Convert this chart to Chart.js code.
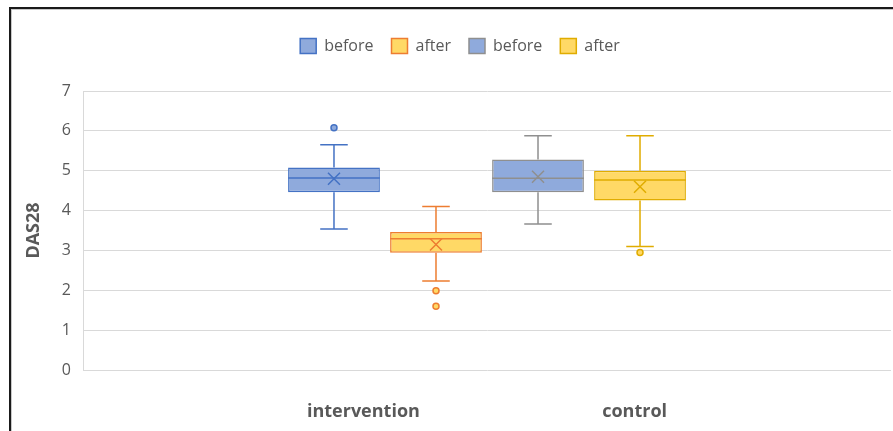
<!DOCTYPE html>
<html>
<head>
<meta charset="utf-8">
<script src="https://cdn.jsdelivr.net/npm/chart.js@4.4.1/dist/chart.umd.min.js"></script>
<style>
  html, body { margin: 0; padding: 0; background: #fff; }
  #frame {
    position: absolute; left: 9px; top: 7px;
    width: 882px; height: 422px;
    border-top: 2px solid #1a1a1a;
    border-left: 2px solid #1a1a1a;
    box-shadow: inset 1px 1px 0 #c8c8c8;
  }
  #chart { display: block; }
</style>
</head>
<body>
<div id="frame"><canvas id="chart" width="882" height="422"></canvas></div>
<script>
// box plot: DAS28 before / after, intervention vs control

// ---- data ----
const groups = ['intervention', 'control'];
const seriesNames = ['before', 'after', 'before', 'after'];
const q1 = [4.46, 2.94, 4.46, 4.25];
const median = [4.82, 3.29, 4.81, 4.77];
const q3 = [5.08, 3.46, 5.28, 5.00];
const whiskerLow = [3.54, 2.23, 3.66, 3.10];
const whiskerHigh = [5.65, 4.10, 5.88, 5.88];
const means = [4.80, 3.15, 4.85, 4.60];
const outliers = [[6.08], [1.99, 1.60], [], [2.95]];
const yTicks = [0, 1, 2, 3, 4, 5, 6, 7];

// ---- styles ----
const fills = ['#8FAADC', '#FFD966', '#8FAADC', '#FFD966'];
const lines = ['#4472C4', '#ED7D31', '#8F8F8F', '#E0AC00'];
const TEXT = '#595959';
const GRID = '#d9d9d9';
const GAP_SPACES = 39;
const LEGEND_GAP = 27;
const LEGEND_SHIFT_X = 9;

// Excel put both group names in one category label
const catLabel = groups.join(' '.repeat(GAP_SPACES));

const datasets = seriesNames.map((name, i) => ({
  label: name,
  data: [[q1[i], q3[i]]],
  backgroundColor: fills[i],
  borderColor: lines[i],
  borderWidth: 1.5,
  borderSkipped: false,
  categoryPercentage: 0.505,
  barPercentage: 0.9
}));

// extra room under the legend, legend nudged toward the plot centre
const legendTweak = {
  id: 'legendTweak',
  afterInit(chart) {
    const lg = chart.legend;
    if (!lg) return;
    const fit = lg.fit;
    lg.fit = function () {
      fit.call(this);
      this.height += LEGEND_GAP;
    };
    const draw = lg.draw;
    lg.draw = function () {
      const ctx = this.ctx;
      ctx.save();
      ctx.translate(LEGEND_SHIFT_X, 0);
      draw.call(this);
      ctx.restore();
    };
  }
};

// whiskers, median, mean marker and outliers drawn on top of the boxes
const boxExtras = {
  id: 'boxExtras',
  afterDatasetsDraw(chart) {
    const ctx = chart.ctx;
    const y = chart.scales.y;
    datasets.forEach((ds, i) => {
      const el = chart.getDatasetMeta(i).data[0];
      if (!el) return;
      const x = el.x;
      const w = el.width;
      const cap = w * 0.3;
      ctx.save();
      ctx.strokeStyle = lines[i];
      ctx.lineWidth = 1.5;
      ctx.beginPath();
      // upper whisker
      ctx.moveTo(x, y.getPixelForValue(q3[i]));
      ctx.lineTo(x, y.getPixelForValue(whiskerHigh[i]));
      ctx.moveTo(x - cap / 2, y.getPixelForValue(whiskerHigh[i]));
      ctx.lineTo(x + cap / 2, y.getPixelForValue(whiskerHigh[i]));
      // lower whisker
      ctx.moveTo(x, y.getPixelForValue(q1[i]));
      ctx.lineTo(x, y.getPixelForValue(whiskerLow[i]));
      ctx.moveTo(x - cap / 2, y.getPixelForValue(whiskerLow[i]));
      ctx.lineTo(x + cap / 2, y.getPixelForValue(whiskerLow[i]));
      // median
      ctx.moveTo(x - w / 2, y.getPixelForValue(median[i]));
      ctx.lineTo(x + w / 2, y.getPixelForValue(median[i]));
      ctx.stroke();

      // mean X
      const my = y.getPixelForValue(means[i]);
      const s = 6;
      ctx.beginPath();
      ctx.moveTo(x - s, my - s); ctx.lineTo(x + s, my + s);
      ctx.moveTo(x - s, my + s); ctx.lineTo(x + s, my - s);
      ctx.stroke();

      // outliers
      ctx.fillStyle = fills[i];
      outliers[i].forEach(v => {
        ctx.beginPath();
        ctx.arc(x, y.getPixelForValue(v), 3, 0, Math.PI * 2);
        ctx.fill();
        ctx.stroke();
      });
      ctx.restore();
    });
  }
};

new Chart(document.getElementById('chart'), {
  type: 'bar',
  data: { labels: [catLabel], datasets },
  plugins: [legendTweak, boxExtras],
  options: {
    responsive: false,
    animation: false,
    layout: { padding: { top: 11, right: 2, bottom: 0, left: 0 } },
    plugins: {
      tooltip: { enabled: false },
      legend: {
        position: 'top',
        labels: {
          color: TEXT,
          font: { family: 'Open Sans', size: 16 },
          boxWidth: 16,
          boxHeight: 15,
          padding: 18
        }
      }
    },
    scales: {
      x: {
        grid: { display: false, drawTicks: false },
        border: { display: false },
        ticks: {
          color: TEXT,
          padding: 31,
          maxRotation: 0,
          autoSkip: false,
          font: { family: 'Open Sans', size: 18, weight: 'bold' }
        },
        afterFit(scale) { scale.height = 61; }
      },
      y: {
        min: 0,
        max: 7,
        afterBuildTicks(scale) { scale.ticks = yTicks.map(v => ({ value: v })); },
        grid: { color: GRID, lineWidth: 1, drawTicks: false },
        border: { display: true, color: GRID },
        ticks: {
          color: TEXT,
          padding: 12,
          font: { family: 'Open Sans', size: 16 }
        },
        title: {
          display: true,
          text: 'DAS28',
          color: TEXT,
          padding: { top: 12, bottom: 0 },
          font: { family: 'Open Sans', size: 18, weight: 'bold' }
        },
        afterFit(scale) { scale.width = 72; }
      }
    }
  }
});
</script>
</body>
</html>
